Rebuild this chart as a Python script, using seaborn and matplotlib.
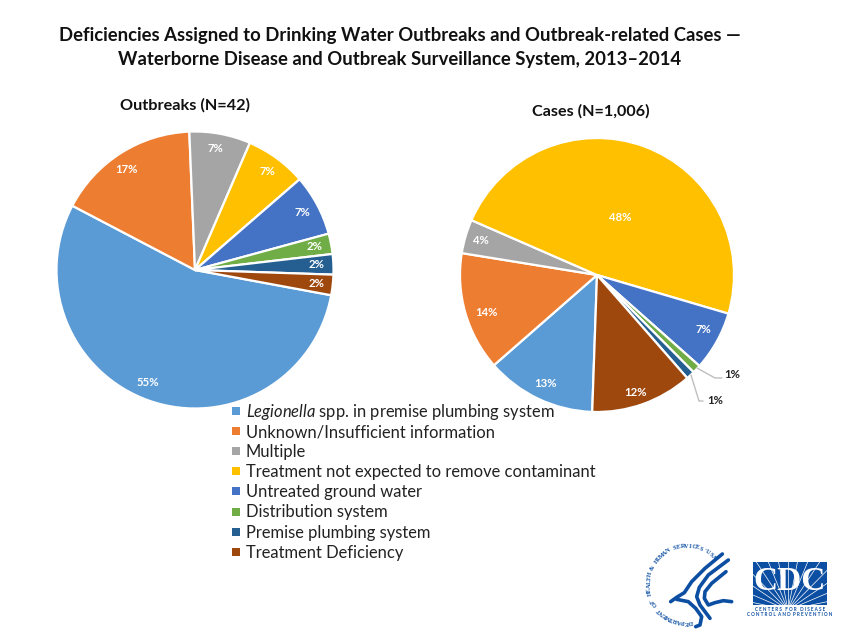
import numpy as np
import seaborn as sns
import matplotlib.pyplot as plt
from matplotlib.patches import Rectangle

W, H = 849, 643

categories = [
    r'$\mathit{Legionella}$ spp. in premise plumbing system',
    'Unknown/Insufficient information',
    'Multiple',
    'Treatment not expected to remove contaminant',
    'Untreated ground water',
    'Distribution system',
    'Premise plumbing system',
    'Treatment Deficiency',
]
outbreak_counts = [23, 7, 3, 3, 3, 1, 1, 1]
case_percents = [13, 14, 4, 48, 7, 1, 1, 12]
colors = ['#5B9BD5', '#ED7D31', '#A5A5A5', '#FFC000',
          '#4472C4', '#70AD47', '#255E91', '#9E480E']

title_lines = ['Deficiencies Assigned to Drinking Water Outbreaks and Outbreak-related Cases —',
               'Waterborne Disease and Outbreak Surveillance System, 2013–2014']

sns.set_theme(style='white')
plt.rcParams['font.family'] = ['Lato', 'DejaVu Sans']
plt.rcParams['mathtext.fontset'] = 'custom'
plt.rcParams['mathtext.it'] = 'Lato:italic'
plt.rcParams['mathtext.rm'] = 'Lato'
palette = sns.color_palette(colors)


def pie_axes(fig, cx, cy, r):
    # rect in pixels, y measured from the top
    ax = fig.add_axes([(cx - r) / W, 1 - (cy + r) / H, 2 * r / W, 2 * r / H])
    ax.set_aspect('equal')
    return ax


def draw_pie(ax, values, start, autopct):
    wedges, _, autotexts = ax.pie(values, colors=palette, startangle=start, counterclock=False,
                                  autopct=autopct, pctdistance=0.88, frame=False,
                                  wedgeprops={'edgecolor': 'white', 'linewidth': 1.6})
    ax.set_xlim(-1, 1)
    ax.set_ylim(-1, 1)
    ax.axis('off')
    for w in wedges:
        w.set_clip_on(False)
    for t in autotexts:
        t.set_color('white')
        t.set_fontsize(8.2)
        t.set_fontweight('bold')
    return autotexts


def nudge(text, dx, dy):
    # shift a label by a few px of the 137 px radius
    x, y = text.get_position()
    text.set_position((x + dx / 137, y - dy / 137))


fig = plt.figure(figsize=(W / 100, H / 100), dpi=100, facecolor='white')

ax_left = pie_axes(fig, 195, 270, 138.5)
left_texts = draw_pie(ax_left, outbreak_counts, -10.5, '%.0f%%')
nudge(left_texts[0], -7, -3)
nudge(left_texts[1], -3, 2)
nudge(left_texts[2], -2, -2)

ax_right = pie_axes(fig, 597, 275, 137)
texts = draw_pie(ax_right, case_percents, -92, lambda p: f'{p:.0f}%' if p > 1.5 else '')
texts[3].set_position((0.17, 0.42))
nudge(texts[1], 5, 4)
nudge(texts[4], 1, -4)
nudge(texts[7], -2, 4)

# overlay in pixel coordinates for the text, leaders and logos
deco = fig.add_axes([0, 0, 1, 1], zorder=5)
deco.set_xlim(0, W)
deco.set_ylim(H, 0)
deco.axis('off')

deco.text(400, 36, title_lines[0], ha='center', va='center', fontsize=13.3, fontweight='bold', color='#111111')
deco.text(400, 60, title_lines[1], ha='center', va='center', fontsize=13.3, fontweight='bold', color='#111111')
deco.text(185, 105, 'Outbreaks (N=42)', ha='center', va='center', fontsize=11.7, fontweight='bold', color='#111111')
deco.text(591, 111, 'Cases (N=1,006)', ha='center', va='center', fontsize=11.6, fontweight='bold', color='#111111')

# leader lines for the two small slices
deco.plot([697, 715, 722], [368, 378, 378], color='#BFBFBF', lw=1)
deco.plot([691, 699, 703], [375, 401, 401], color='#BFBFBF', lw=1)
deco.text(732, 374, '1%', ha='center', va='center', fontsize=8.2, fontweight='bold', color='#222222')
deco.text(715, 401, '1%', ha='center', va='center', fontsize=8.2, fontweight='bold', color='#222222')

# legend, one row every 20 px
for i, (label, c) in enumerate(zip(categories, palette)):
    y = 417 + 20.1 * i
    deco.add_patch(Rectangle((232, y - 10), 8, 8, facecolor=c, edgecolor='none'))
    deco.text(246, y, label, ha='left', va='baseline', fontsize=11.9, color='#222222')

# HHS seal
BLUE = '#0B4EA2'
seal = 'DEPARTMENT OF HEALTH & HUMAN SERVICES·USA'
for ch, a in zip(seal, np.linspace(-85, -315, len(seal))):
    th = np.radians(a)
    deco.text(687 + 38 * np.cos(th), 584 - 38 * np.sin(th), ch, fontsize=4.6, fontfamily='Liberation Serif',
              fontweight='bold', color=BLUE, ha='center', va='center', rotation=a - 90)


def eagle_line(pts, lw=2.6):
    xs = [665 + p[0] / 3 for p in pts]
    ys = [550 + p[1] / 3 for p in pts]
    deco.plot(xs, ys, color=BLUE, lw=lw, solid_capstyle='round', solid_joinstyle='round')


eagle_line([(172, 12), (120, 55), (80, 95), (58, 128), (35, 142), (17, 155)])
eagle_line([(35, 148), (70, 155), (92, 175), (110, 200), (105, 225), (92, 230)])
eagle_line([(190, 30), (130, 75), (103, 112), (95, 140), (105, 165), (120, 185), (135, 205)])
eagle_line([(183, 65), (140, 100), (120, 125), (118, 145), (130, 165), (150, 158), (175, 152), (200, 155)])

# CDC box
box = Rectangle((753, 562), 74, 43, facecolor=BLUE, edgecolor='none')
deco.add_patch(box)
for a in np.linspace(12, 168, 15):
    th = np.radians(a)
    ray, = deco.plot([788, 788 + 90 * np.cos(th)], [610, 610 - 90 * np.sin(th)], color='white', lw=0.5)
    ray.set_clip_path(box)
deco.text(790, 581, 'CDC', ha='center', va='center', fontsize=24, fontfamily='Liberation Serif',
          fontweight='bold', color='white')
deco.text(790, 609.5, 'C E N T E R S   F O R   D I S E A S E', ha='center', va='center', fontsize=3.3,
          fontweight='bold', color=BLUE)
deco.text(790, 615, 'C O N T R O L  A N D  P R E V E N T I O N', ha='center', va='center', fontsize=3.3,
          fontweight='bold', color=BLUE)

fig.savefig('out.png', dpi=100)
